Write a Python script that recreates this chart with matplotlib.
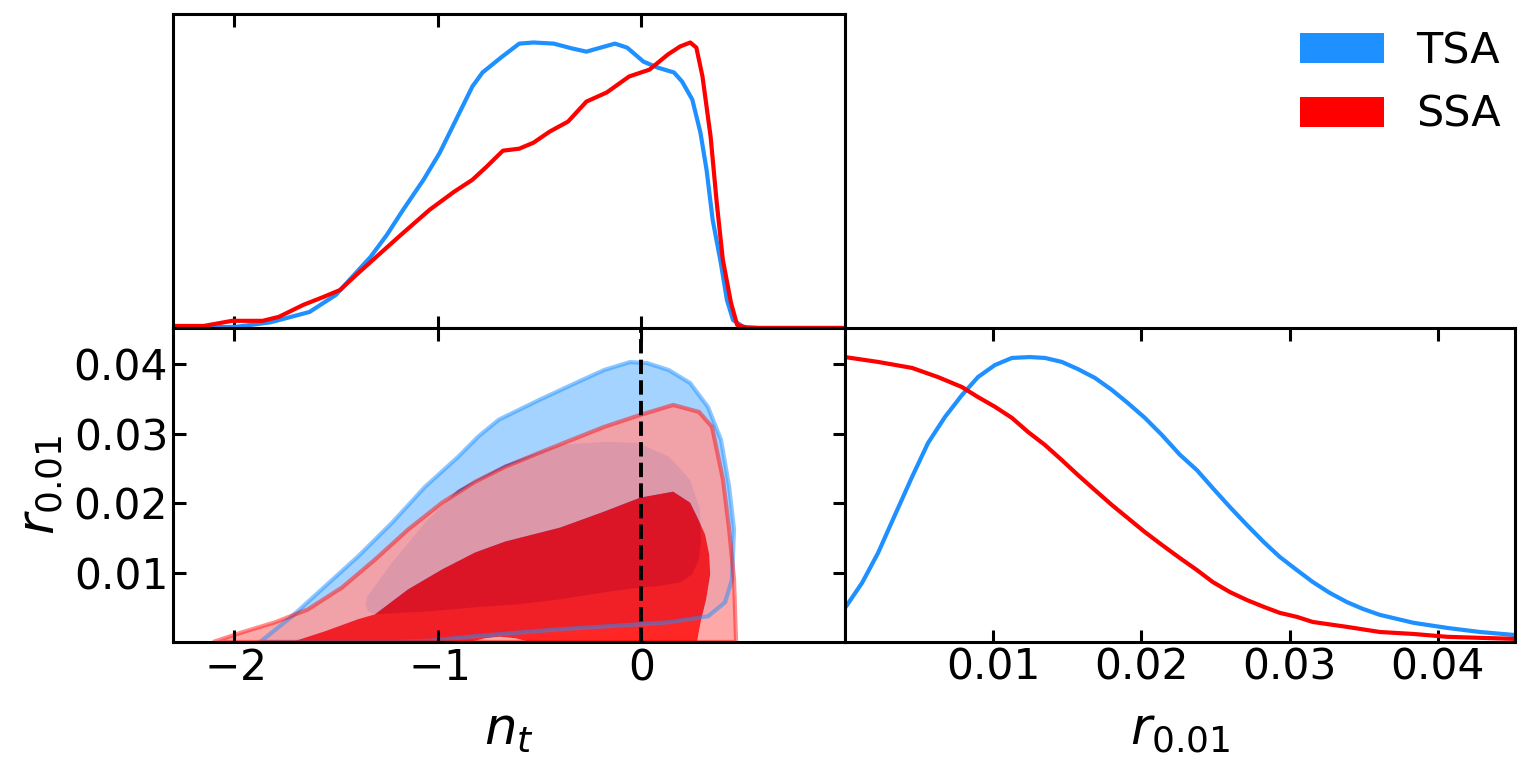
import numpy as np
import matplotlib
matplotlib.use('Agg')
import matplotlib.pyplot as plt
from matplotlib.path import Path
from matplotlib.patches import PathPatch, Patch

tsa_color = '#1E90FF'
ssa_color = '#FF0000'
labels = ['TSA', 'SSA']

# 1D marginal of n_t (normalised to peak 1)
nt_tsa = [-2.30, -1.99, -1.82, -1.63, -1.50, -1.42, -1.33, -1.25, -1.17, -1.07, -0.99, -0.91,
          -0.83, -0.78, -0.69, -0.60, -0.53, -0.43, -0.34, -0.27, -0.20, -0.13, -0.07, 0.01,
          0.08, 0.16, 0.20, 0.25, 0.29, 0.32, 0.35, 0.39, 0.42, 0.45, 0.50, 0.58, 1.00]
p_nt_tsa = [0.0, 0.004, 0.02, 0.056, 0.116, 0.179, 0.249, 0.326, 0.414, 0.519, 0.614, 0.730,
            0.846, 0.895, 0.947, 0.996, 1.0, 0.996, 0.979, 0.968, 0.982, 0.996, 0.982, 0.933,
            0.912, 0.895, 0.863, 0.800, 0.684, 0.554, 0.379, 0.228, 0.098, 0.028, 0.004, 0.0, 0.0]

nt_ssa = [-2.30, -2.15, -2.01, -1.86, -1.78, -1.66, -1.56, -1.48, -1.40, -1.28, -1.17, -1.04,
          -0.92, -0.83, -0.76, -0.68, -0.60, -0.53, -0.45, -0.36, -0.27, -0.17, -0.06, 0.04,
          0.13, 0.19, 0.24, 0.27, 0.30, 0.34, 0.37, 0.40, 0.44, 0.47, 0.52, 1.00]
p_nt_ssa = [0.007, 0.007, 0.025, 0.025, 0.039, 0.081, 0.109, 0.133, 0.186, 0.263, 0.333, 0.414,
            0.477, 0.519, 0.565, 0.621, 0.628, 0.649, 0.688, 0.723, 0.793, 0.825, 0.881, 0.905,
            0.958, 0.986, 1.0, 0.982, 0.881, 0.670, 0.439, 0.239, 0.088, 0.011, 0.0, 0.0]

# 1D marginal of r_0.01
r_tsa = [0.0, 0.00115, 0.00223, 0.00337, 0.00452, 0.0056, 0.00674, 0.00789, 0.00897, 0.01011,
         0.01126, 0.01247, 0.01349, 0.01463, 0.01571, 0.01686, 0.018, 0.01908, 0.02023, 0.02138,
         0.02259, 0.02374, 0.02481, 0.02596, 0.02711, 0.02825, 0.02933, 0.03048, 0.03156, 0.0327,
         0.03385, 0.03493, 0.03608, 0.03837, 0.04066, 0.04282, 0.04504]
p_r_tsa = [0.119, 0.207, 0.312, 0.445, 0.578, 0.697, 0.788, 0.865, 0.928, 0.970,
           0.995, 0.998, 0.995, 0.981, 0.956, 0.925, 0.883, 0.837, 0.785, 0.725,
           0.656, 0.602, 0.539, 0.473, 0.410, 0.350, 0.298, 0.252, 0.210, 0.172,
           0.140, 0.116, 0.095, 0.067, 0.049, 0.035, 0.025]

r_ssa = [0.0, 0.00223, 0.00452, 0.00627, 0.00789, 0.00897, 0.01011, 0.01126, 0.01234, 0.01349,
         0.01463, 0.01571, 0.01686, 0.018, 0.01908, 0.02023, 0.02138, 0.02259, 0.02374, 0.02481,
         0.02596, 0.02711, 0.02825, 0.02933, 0.03048, 0.03156, 0.03385, 0.03608, 0.03837, 0.04066,
         0.04504]
p_r_ssa = [0.998, 0.981, 0.960, 0.928, 0.893, 0.858, 0.824, 0.785, 0.736, 0.690,
           0.637, 0.585, 0.532, 0.480, 0.434, 0.385, 0.340, 0.294, 0.252, 0.210,
           0.175, 0.147, 0.123, 0.102, 0.088, 0.070, 0.053, 0.035, 0.028, 0.018,
           0.011]

# 2D contours (n_t, r_0.01) boundaries
tsa95_nt = [-1.873, -1.716, -1.554, -1.392, -1.224, -1.062, -0.900, -0.800, -0.700, -0.502, -0.291,
            -0.183, -0.056, 0.028, 0.134, 0.239, 0.327, 0.391, 0.431, 0.455, 0.445, 0.411, 0.328,
            0.136, -0.006, -0.399, -0.822, -1.038, -1.224]
tsa95_r = [0.0, 0.00369, 0.00800, 0.01230, 0.01718, 0.02235, 0.02665, 0.02960, 0.03200, 0.03484,
           0.03771, 0.03915, 0.04029, 0.04015, 0.03915, 0.03728, 0.03383, 0.02910, 0.02235, 0.01618,
           0.00900, 0.00570, 0.00370, 0.00283, 0.00255, 0.00183, 0.00082, 0.00017, 0.0]

tsa68_nt = [-1.356, -1.346, -1.224, -1.062, -0.900, -0.733, -0.669, -0.399, -0.183, -0.016, 0.136,
            0.239, 0.288, 0.293, 0.283, 0.249, 0.190, 0.072, -0.006, -0.183, -0.399, -0.610,
            -0.822, -1.038, -1.308, -1.342]
tsa68_r = [0.00541, 0.00656, 0.01144, 0.01718, 0.02192, 0.02450, 0.02551, 0.02838, 0.02881, 0.02866,
           0.02665, 0.02335, 0.01904, 0.01473, 0.01186, 0.00972, 0.00857, 0.00800, 0.00785, 0.00714,
           0.00613, 0.00541, 0.00498, 0.00441, 0.00398, 0.00441]

ssa95_nt = [-2.103, -1.961, -1.799, -1.637, -1.470, -1.308, -1.146, -0.979, -0.817, -0.669, -0.502,
            -0.183, -0.006, 0.156, 0.283, 0.347, 0.401, 0.431, 0.455, 0.465]
ssa95_r = [0.0, 0.00139, 0.00283, 0.00470, 0.00785, 0.01187, 0.01618, 0.02005, 0.02306, 0.02522,
           0.02723, 0.03096, 0.03268, 0.03412, 0.03311, 0.03096, 0.02335, 0.01618, 0.00900, 0.0]

ssa68_nt = [-1.716, -1.554, -1.392, -1.308, -1.146, -0.979, -0.817, -0.669, -0.399, -0.183, -0.006,
            0.156, 0.239, 0.273, 0.313, 0.333, 0.338, 0.318, 0.294, 0.273, -0.546, -0.620, -0.694,
            -0.767, -0.841]
ssa68_r = [0.0, 0.00154, 0.00327, 0.00398, 0.00756, 0.01043, 0.01287, 0.01445, 0.01646, 0.01876,
           0.02077, 0.02163, 0.02005, 0.01804, 0.01546, 0.01259, 0.00972, 0.00613, 0.00326, 0.0,
           0.0, 0.00053, 0.00075, 0.00053, 0.0]

nt_lim = (-2.3, 1.0)
r_lim = (0.0, 0.0452)
nt_ticks = [-2, -1, 0]
r_ticks = [0.01, 0.02, 0.03, 0.04]
r_ticklabels = ['0.01', '0.02', '0.03', '0.04']


def pale(c, f=0.6):
    rgb = np.array(matplotlib.colors.to_rgb(c))
    return tuple(rgb * (1 - f) + f)


def ring(xs, ys, ccw=True):
    pts = np.column_stack([xs, ys])
    area = 0.5 * np.sum(pts[:, 0] * np.roll(pts[:, 1], -1) - np.roll(pts[:, 0], -1) * pts[:, 1])
    if (area > 0) != ccw:
        pts = pts[::-1]
    return pts


def closed_path(*rings):
    verts, codes = [], []
    for pts in rings:
        verts += list(pts) + [pts[0]]
        codes += [Path.MOVETO] + [Path.LINETO] * (len(pts) - 1) + [Path.CLOSEPOLY]
    return Path(np.array(verts), codes)


def style(ax, **kw):
    for s in ax.spines.values():
        s.set_linewidth(2.2)
    ax.tick_params(direction='in', length=9, width=2.2, labelsize=30.5, **kw)


fig = plt.figure(figsize=(15.3, 7.79), dpi=100)
ax_top = fig.add_axes([0.1131, 0.5790, 0.4392, 0.4031])
ax_2d = fig.add_axes([0.1131, 0.1759, 0.4392, 0.4031])
ax_r = fig.add_axes([0.5523, 0.1759, 0.4379, 0.4031])

# n_t marginal
ax_top.plot(nt_tsa, p_nt_tsa, color=tsa_color, lw=3)
ax_top.plot(nt_ssa, p_nt_ssa, color=ssa_color, lw=3)
ax_top.set_xlim(nt_lim)
ax_top.set_ylim(0, 1.1)
ax_top.set_xticks(nt_ticks)
ax_top.set_yticks([])
style(ax_top, top=True, bottom=True, labelbottom=False)

# 2D contours
b95 = ring(tsa95_nt, tsa95_r)
b68 = ring(tsa68_nt, tsa68_r)
s95 = ring(ssa95_nt, ssa95_r)
s68 = ring(ssa68_nt, ssa68_r, ccw=False)
ax_2d.add_patch(PathPatch(closed_path(b95), facecolor=pale(tsa_color), edgecolor='none'))
ax_2d.add_patch(PathPatch(closed_path(b68), facecolor=tsa_color, edgecolor='none'))
ax_2d.add_patch(PathPatch(closed_path(s95, s68), facecolor=pale(ssa_color), edgecolor='none', alpha=0.85))
ax_2d.add_patch(PathPatch(closed_path(s68), facecolor=ssa_color, edgecolor='none', alpha=0.85))
ax_2d.add_patch(PathPatch(closed_path(b95), facecolor='none', edgecolor=tsa_color, lw=3, alpha=0.5))
ax_2d.add_patch(PathPatch(closed_path(s95), facecolor='none', edgecolor=ssa_color, lw=3, alpha=0.45))
ax_2d.axvline(0, color='k', ls='--', lw=2.8)
ax_2d.set_xlim(nt_lim)
ax_2d.set_ylim(r_lim)
ax_2d.set_xticks(nt_ticks)
ax_2d.set_xticklabels(['$-2$', '$-1$', '$0$'])
ax_2d.set_yticks(r_ticks)
ax_2d.set_yticklabels(r_ticklabels)
style(ax_2d, top=True, right=True)
ax_2d.set_xlabel(r'$n_t$', fontsize=37, labelpad=12)
ax_2d.set_ylabel(r'$r_{0.01}$', fontsize=37, labelpad=6)

# r marginal
ax_r.plot(r_tsa, p_r_tsa, color=tsa_color, lw=3)
ax_r.plot(r_ssa, p_r_ssa, color=ssa_color, lw=3)
ax_r.set_xlim(r_lim)
ax_r.set_ylim(0, 1.1)
ax_r.set_xticks(r_ticks)
ax_r.set_xticklabels(r_ticklabels)
ax_r.set_yticks([])
style(ax_r, top=True)
ax_r.set_xlabel(r'$r_{0.01}$', fontsize=37, labelpad=12)

handles = [Patch(facecolor=tsa_color), Patch(facecolor=ssa_color)]
fig.legend(handles, labels, loc='upper right', bbox_to_anchor=(1.006, 1.011), frameon=False,
           fontsize=31, handlelength=1.95, handleheight=0.7, handletextpad=0.75, labelspacing=0.5)

fig.savefig('out.png', dpi=100)
